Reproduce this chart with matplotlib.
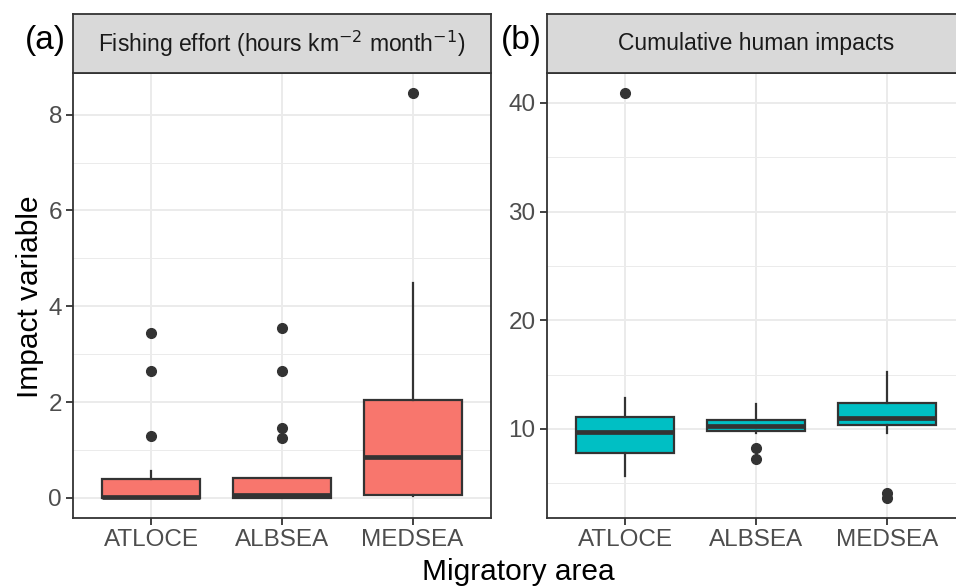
import matplotlib.pyplot as plt
from matplotlib.ticker import MultipleLocator

plt.rcParams['font.family'] = ['Liberation Sans', 'DejaVu Sans']

categories = ["ATLOCE", "ALBSEA", "MEDSEA"]

# panel (a): fishing effort
fish_whislo = [0.0, 0.0, 0.03]
fish_q1 = [0.0, 0.0, 0.06]
fish_med = [0.02, 0.05, 0.85]
fish_q3 = [0.39, 0.41, 2.05]
fish_whishi = [0.56, 0.41, 4.49]
fish_fliers = [[1.29, 2.64, 3.44], [1.25, 1.46, 2.65, 3.54], [8.45]]

# panel (b): cumulative human impacts
cum_whislo = [5.68, 9.6, 9.6]
cum_q1 = [7.82, 9.82, 10.34]
cum_med = [9.7, 10.3, 10.98]
cum_q3 = [11.13, 10.83, 12.42]
cum_whishi = [12.88, 12.3, 15.2]
cum_fliers = [[40.9], [7.24, 8.22], [3.62, 4.08]]

DARK = "#333333"
W, H = 956, 588


def make_stats(lo, q1, med, q3, hi, fliers):
    return [dict(whislo=a, q1=b, med=c, q3=d, whishi=e, fliers=f, label=lab)
            for a, b, c, d, e, f, lab in zip(lo, q1, med, q3, hi, fliers, categories)]


def panel(fig, left_px, right_px, stats, color, ylim, major, title):
    bottom = 1 - 518 / H
    top = 1 - 73 / H
    ax = fig.add_axes([left_px / W, bottom, (right_px - left_px) / W, top - bottom])
    ax.set_facecolor("white")
    ax.bxp(stats, positions=[1, 2, 3], widths=0.75, patch_artist=True, showcaps=False,
           boxprops=dict(facecolor=color, edgecolor=DARK, linewidth=1.6),
           medianprops=dict(color=DARK, linewidth=3.4, solid_capstyle="butt"),
           whiskerprops=dict(color=DARK, linewidth=1.6),
           flierprops=dict(marker="o", markerfacecolor=DARK, markeredgecolor=DARK, markersize=7),
           zorder=3)
    ax.set_xlim(0.4, 3.6)
    ax.set_ylim(*ylim)
    ax.yaxis.set_major_locator(MultipleLocator(major))
    ax.yaxis.set_minor_locator(MultipleLocator(major / 2))
    ax.set_xticks([1, 2, 3])
    ax.set_xticklabels(categories)
    ax.grid(True, which="major", color="#EBEBEB", linewidth=1.4, zorder=0)
    ax.grid(True, which="minor", axis="y", color="#EBEBEB", linewidth=0.7, zorder=0)
    ax.set_axisbelow(True)
    ax.tick_params(which="major", length=5, width=1.3, color=DARK, labelcolor="#4D4D4D",
                   labelsize=17.5, pad=3)
    ax.tick_params(which="minor", length=0)
    for s in ax.spines.values():
        s.set_color(DARK)
        s.set_linewidth(1.3)

    strip = fig.add_axes([left_px / W, top, (right_px - left_px) / W, 59 / H])
    strip.set_facecolor("#D9D9D9")
    strip.set_xticks([])
    strip.set_yticks([])
    for s in strip.spines.values():
        s.set_color(DARK)
        s.set_linewidth(1.3)
    strip.text(0.5, 0.5, title, transform=strip.transAxes, ha="center", va="center",
               fontsize=16.5, color="#1A1A1A")
    return ax


fig = plt.figure(figsize=(W / 100, H / 100), dpi=100)

fish_stats = make_stats(fish_whislo, fish_q1, fish_med, fish_q3, fish_whishi, fish_fliers)
cum_stats = make_stats(cum_whislo, cum_q1, cum_med, cum_q3, cum_whishi, cum_fliers)

panel(fig, 73, 491, fish_stats, "#F8766D", (-0.42, 8.87), 2,
      r"Fishing effort (hours km$^{-2}$ month$^{-1}$)")
panel(fig, 546.5, 965.5, cum_stats, "#00BFC4", (1.8, 42.75), 10,
      "Cumulative human impacts")

fig.text(45 / W, 1 - 40 / H, "(a)", fontsize=24, ha="center", va="center")
fig.text(521 / W, 1 - 40 / H, "(b)", fontsize=24, ha="center", va="center")
fig.text(30 / W, 1 - 297 / H, "Impact variable", fontsize=21.5, rotation=90,
         ha="center", va="center")
fig.text(518 / W, 1 - 572 / H, "Migratory area", fontsize=21.5, ha="center", va="center")

fig.savefig("out.png", dpi=100)
